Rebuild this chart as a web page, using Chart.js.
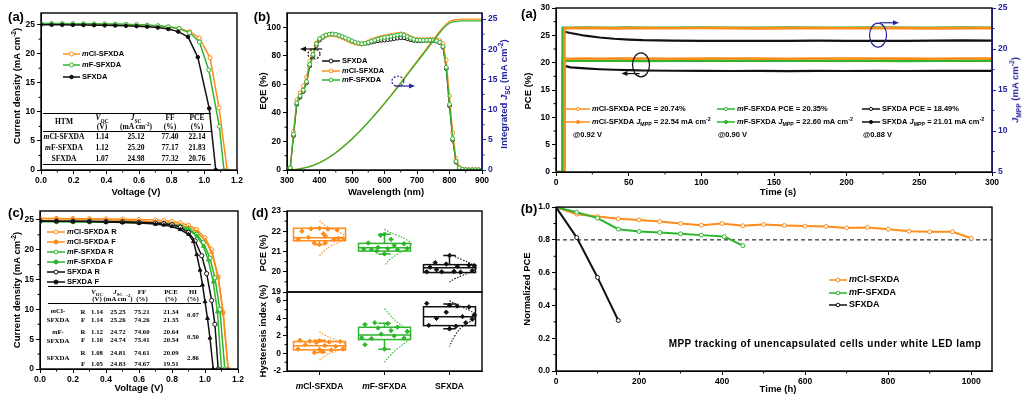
<!DOCTYPE html>
<html>
<head>
<meta charset="utf-8">
<script src="https://cdn.jsdelivr.net/npm/chart.js@4.4.0/dist/chart.umd.min.js"></script>
<style>
  html, body { margin: 0; padding: 0; background: #fff; }
  #fig { position: relative; width: 1024px; height: 396px; overflow: hidden;
         font-family: "Liberation Sans", Arial, sans-serif; font-weight: bold; color: #000; }
  #fig canvas { position: absolute; }
  .t { position: absolute; white-space: nowrap; line-height: 1; transform: translate(-50%, -50%); }
  .v { transform: translate(-50%, -50%) rotate(-90deg); }
  .lab { font-size: 13px; }
  .ax { font-size: 9.5px; }
  .note { font-size: 10px; letter-spacing: 0.45px; }
  .tb { font-family: "Liberation Serif", "Times New Roman", serif; font-size: 7.5px; }
  .tc { font-family: "Liberation Serif", "Times New Roman", serif; font-size: 6.8px; }
  .rule { position: absolute; height: 0; border-top: 1px solid #000; }
  sub, sup { font-size: 70%; line-height: 0; }
</style>
</head>
<body>
<div id="fig"></div>
<script>
// ---- colours
const ORANGE = '#ff8c1a', GREEN = '#2db52d', BLACK = '#111111', BLUE = '#23239b';
const names = ['<i>m</i>Cl-SFXDA', '<i>m</i>F-SFXDA', 'SFXDA'];

// ---- (a) J-V curves
const jvVoltMcl = [0,0.065,0.13,0.195,0.26,0.325,0.39,0.455,0.52,0.585,0.65,0.715,0.78,0.845,0.91,0.97,1.035,1.09,1.14];
const jvCurMcl  = [25.12,25.11,25.10,25.09,25.08,25.06,25.04,25.01,24.97,24.92,24.85,24.75,24.60,24.35,23.80,22.70,19.30,10.70,0];
const jvVoltMf  = [0,0.065,0.13,0.195,0.26,0.325,0.39,0.455,0.52,0.585,0.65,0.715,0.78,0.845,0.91,0.97,1.027,1.092,1.12];
const jvCurMf   = [25.20,25.19,25.18,25.17,25.16,25.14,25.12,25.09,25.05,25.00,24.92,24.82,24.65,24.35,23.60,22.00,17.20,7.50,0];
const jvVoltSf  = [0,0.065,0.13,0.195,0.26,0.325,0.39,0.455,0.52,0.585,0.65,0.715,0.78,0.84,0.90,0.96,1.03,1.07];
const jvCurSf   = [24.98,24.97,24.96,24.95,24.93,24.91,24.88,24.85,24.80,24.74,24.65,24.50,24.25,23.80,22.90,19.40,10.60,0];
const tblVoc = ['1.14', '1.12', '1.07'];
const tblJsc = ['25.12', '25.20', '24.98'];
const tblFF  = ['77.40', '77.17', '77.32'];
const tblPce = ['22.14', '21.83', '20.76'];

// ---- (b) EQE and integrated Jsc
const wl = [300,310,320,330,340,350,360,370,380,390,400,410,420,430,440,450,460,470,480,490,500,510,520,530,540,550,560,570,580,590,600,610,620,630,640,650,660,670,680,690,700,710,720,730,740,750,760,770,780,790,800,810,820,830,840,850,860,870,880,890,900];
const eqeMf  = [1.0,1.5,25,47,52,56,62,74,81,88.5,92,93.5,94.6,95.2,95.3,95.0,94.3,93.5,92.6,91.6,90.6,89.6,88.9,88.5,88.7,89.4,90.2,91.0,91.7,92.3,92.8,93.2,93.6,94.1,94.6,95.0,94.6,93.6,92.4,91.5,91.0,90.9,90.9,91.0,91.0,90.8,90.5,89.5,86.5,72,46,22,6,1.5,0.5,0.2,0.1,0.1,0.1,0.1,0.1];
const eqeMcl = [1.0,1.8,27,49,54,59,65,76,83,89,91.8,93.2,94.1,94.6,94.7,94.4,93.7,92.8,91.8,90.8,89.8,89.0,88.4,88.3,88.8,89.8,90.8,91.7,92.4,93.0,93.5,93.9,94.3,94.7,95.1,95.4,95.0,94.0,92.8,91.9,91.5,91.4,91.4,91.5,91.6,91.6,91.4,90.8,88.5,77,52,26,8,2,0.6,0.2,0.1,0.1,0.1,0.1,0.1];
const eqeSf  = [0.8,1.3,24,46,51,55,61,73,80,87,91,93,94.3,95.0,95.1,94.8,94.0,93.1,92.1,91.0,90.0,89.2,88.6,88.3,88.5,89.0,89.6,90.1,90.5,90.8,91.0,91.3,91.6,92.0,92.4,92.7,92.6,92.0,91.3,90.8,90.6,90.6,90.7,90.8,90.8,90.6,90.3,89.2,86.0,71,45,21,5.5,1.3,0.4,0.2,0.1,0.1,0.1,0.1,0.1];
const intMf  = [0,0.01,0.05,0.12,0.2,0.3,0.42,0.57,0.75,0.96,1.2,1.47,1.77,2.1,2.46,2.85,3.27,3.71,4.17,4.65,5.15,5.67,6.2,6.75,7.32,7.9,8.5,9.11,9.73,10.36,11.0,11.65,12.31,12.98,13.66,14.35,15.05,15.75,16.45,17.15,17.85,18.55,19.25,19.95,20.65,21.35,22.05,22.73,23.37,23.92,24.3,24.52,24.62,24.66,24.68,24.69,24.7,24.7,24.7,24.7,24.7];
const intMcl = [0,0.01,0.05,0.12,0.21,0.32,0.44,0.59,0.77,0.98,1.22,1.49,1.79,2.12,2.48,2.87,3.29,3.73,4.19,4.67,5.17,5.69,6.22,6.77,7.34,7.93,8.54,9.16,9.79,10.43,11.08,11.74,12.41,13.09,13.78,14.48,15.19,15.9,16.61,17.32,18.03,18.74,19.45,20.16,20.87,21.58,22.29,22.98,23.63,24.2,24.58,24.8,24.9,24.94,24.96,24.97,24.98,24.98,24.98,24.98,24.98];

// ---- (a, right) steady state PCE / J_MPP vs time
const stabTime = [6,10,20,30,40,50,60,80,100,120,140,160,180,200,220,240,260,280,300];
const startTime = [5.7, 4.6, 5.2];
const mclPce = [20.70,20.72,20.75,20.73,20.76,20.74,20.75,20.73,20.74,20.76,20.74,20.73,20.75,20.74,20.76,20.74,20.73,20.75,20.74];
const mfPce  = [20.33,20.36,20.35,20.34,20.36,20.35,20.33,20.36,20.35,20.34,20.36,20.35,20.34,20.36,20.35,20.33,20.35,20.36,20.35];
const sfPce  = [19.40,19.15,18.95,18.80,18.70,18.62,18.57,18.52,18.50,18.48,18.49,18.47,18.49,18.48,18.50,18.48,18.49,18.51,18.49];
const mclJ   = [22.50,22.53,22.55,22.54,22.52,22.55,22.54,22.53,22.56,22.54,22.52,22.55,22.54,22.53,22.55,22.54,22.52,22.55,22.54];
const mfJ    = [22.58,22.60,22.61,22.59,22.60,22.62,22.60,22.59,22.61,22.60,22.58,22.61,22.60,22.59,22.61,22.60,22.59,22.61,22.60];
const sfJ    = [22.10,21.95,21.62,21.40,21.25,21.15,21.08,21.03,21.00,20.98,21.00,20.99,21.01,20.98,21.00,20.99,21.01,21.06,21.03];
const stabPceLbl = ['20.74', '20.35', '18.49'];
const stabJLbl = ['22.54', '22.60', '21.01'];
const biasV = ['0.92', '0.90', '0.88'];

// ---- (c) forward / reverse J-V
const hvVoltOrR = [0,0.1,0.2,0.3,0.4,0.5,0.6,0.7,0.75,0.8,0.85,0.9,0.95,1.0,1.04,1.08,1.11,1.14];
const hvCurOrR  = [25.25,25.24,25.22,25.20,25.17,25.13,25.07,24.98,24.90,24.75,24.50,24.10,23.40,22.00,20.00,15.50,9.50,0];
const hvVoltOrF = [0,0.1,0.2,0.3,0.4,0.5,0.6,0.7,0.75,0.8,0.85,0.9,0.95,1.0,1.04,1.08,1.11,1.14];
const hvCurOrF  = [25.26,25.21,25.16,25.10,25.02,24.93,24.82,24.67,24.56,24.40,24.15,23.75,23.00,21.60,19.60,15.30,9.40,0];
const hvVoltGrR = [0,0.1,0.2,0.3,0.4,0.5,0.6,0.7,0.75,0.8,0.85,0.9,0.95,0.99,1.03,1.06,1.09,1.12];
const hvCurGrR  = [24.72,24.71,24.69,24.67,24.64,24.60,24.53,24.43,24.35,24.20,23.95,23.50,22.60,21.20,18.60,15.30,10.00,0];
const hvVoltGrF = [0,0.1,0.2,0.3,0.4,0.5,0.6,0.7,0.75,0.8,0.85,0.9,0.95,0.99,1.02,1.05,1.075,1.10];
const hvCurGrF  = [24.74,24.73,24.71,24.69,24.66,24.62,24.55,24.45,24.36,24.20,23.90,23.40,22.30,20.60,18.30,14.60,9.60,0];
const hvVoltBkR = [0,0.1,0.2,0.3,0.4,0.5,0.6,0.7,0.75,0.8,0.85,0.9,0.94,0.98,1.01,1.04,1.06,1.08];
const hvCurBkR  = [24.81,24.80,24.78,24.76,24.73,24.69,24.62,24.50,24.40,24.20,23.80,22.90,21.50,19.00,16.00,11.50,7.50,0];
const hvVoltBkF = [0,0.1,0.2,0.3,0.4,0.5,0.6,0.7,0.75,0.8,0.85,0.9,0.93,0.95,0.97,0.985,1.0,1.015,1.03,1.05];
const hvCurBkF  = [24.83,24.80,24.76,24.72,24.66,24.58,24.47,24.30,24.15,23.90,23.40,22.60,21.40,19.20,16.60,14.10,11.30,8.50,5.20,0];
const hvVoc = ['1.14','1.14','1.12','1.10','1.08','1.05'];
const hvJsc = ['25.25','25.26','24.72','24.74','24.81','24.83'];
const hvFF  = ['75.21','74.26','74.60','75.41','74.61','74.67'];
const hvPce = ['21.34','21.35','20.64','20.54','20.09','19.51'];
const hvHI  = ['0.07','0.50','2.86'];

// ---- (d) statistics (box: q1, median, q3, whiskers)
const pceQ1 = [21.53, 21.02, 19.96], pceMed = [21.68, 21.19, 20.20], pceQ3 = [22.15, 21.40, 20.35];
const pceLo = [21.34, 20.88, 19.96], pceHi = [22.15, 21.85, 20.80];
const hiQ1 = [0.41, 1.58, 3.17], hiMed = [0.88, 2.11, 4.19], hiQ3 = [1.35, 2.98, 5.32];
const hiLo = [0.10, 0.47, 2.80], hiHi = [1.50, 3.45, 5.63];
const pceMcl = [22.0,22.12,22.15,22.1,22.07,21.6,21.7,21.76,21.65,21.42,21.34,21.42,21.6,21.63,21.88];
const pceMclOff = [-0.27,-0.13,0.0,0.13,0.27,-0.33,-0.17,0.09,0.29,-0.08,0.0,0.09,0.22,0.37,0.06];
const pceMf = [21.85,21.8,21.6,21.42,21.3,21.38,21.2,21.12,21.1,21.14,21.08,21.15,20.88,21.02];
const pceMfOff = [0.0,-0.06,0.1,-0.25,0.15,0.3,-0.1,-0.32,-0.2,0.05,0.2,0.35,0.0,-0.12];
const pceSf = [20.8,20.45,20.38,20.32,20.27,20.22,20.05,20.0,20.02,19.98,20.1,20.3,20.0];
const pceSfOff = [0.0,-0.22,-0.05,0.3,0.12,-0.3,0.35,-0.12,0.07,0.17,-0.2,0.38,-0.35];
const hiMcl = [1.5,1.4,1.45,1.3,1.35,1.0,0.9,0.8,0.5,0.45,0.4,0.2,0.1,0.5,1.25];
const hiMclOff = [-0.3,-0.15,0.0,0.15,0.32,-0.22,0.08,0.25,-0.33,0.0,0.18,0.05,-0.08,0.36,-0.05];
const hiMf = [3.5,3.4,3.3,3.0,2.5,2.2,2.0,1.8,1.7,1.75,1.0,0.5,2.6,2.9];
const hiMfOff = [-0.15,0.05,-0.3,0.2,0.35,-0.05,0.15,-0.35,-0.2,0.3,-0.3,0.0,0.1,-0.1];
const hiSf = [5.7,5.5,5.4,5.3,4.7,4.2,4.0,3.9,3.5,3.2,2.8,3.1,4.4];
const hiSfOff = [-0.35,0.0,0.12,0.3,-0.05,0.2,-0.2,0.35,0.25,-0.32,0.0,0.1,0.38];
// distribution curves: value, sideways offset
const curveOff = [0.0,0.08,0.19,0.33,0.41,0.33,0.19,0.08,0.0];
const pceCurveMcl = [22.5,22.3,22.1,21.9,21.7,21.5,21.3,21.05,20.8];
const pceCurveMf  = [22.1,21.95,21.8,21.6,21.35,21.1,20.85,20.6,20.3];
const pceCurveSf  = [20.9,20.75,20.6,20.4,20.2,20.0,19.8,19.65,19.5];
const hiCurveMcl  = [2.5,2.1,1.7,1.3,0.9,0.5,0.1,-0.3,-0.75];
const hiCurveMf   = [5.1,4.4,3.6,2.8,2.05,1.3,0.5,-0.3,-1.0];
const hiCurveSf   = [6.0,5.7,5.3,4.8,4.3,3.7,3.0,2.0,0.8];

// ---- (b, right) long-term MPP tracking
const mclTime = [0,50,100,150,200,250,300,350,400,450,500,550,600,650,700,750,800,850,900,955,1000];
const mclNorm = [1.0,0.957,0.943,0.929,0.922,0.912,0.9,0.89,0.9,0.886,0.894,0.888,0.884,0.882,0.873,0.876,0.865,0.853,0.849,0.849,0.81];
const mfTime = [0,50,100,150,200,250,300,350,405,450];
const mfNorm = [1.0,0.969,0.933,0.865,0.851,0.845,0.837,0.829,0.82,0.765];
const sfTime = [0,50,100,150];
const sfNorm = [1.0,0.814,0.571,0.308];
const t80 = 0.8;

// ---------------------------------------------------------------
Chart.defaults.font.family = '"Liberation Sans", Arial, sans-serif';
Chart.defaults.font.size = 8.5;
Chart.defaults.font.weight = 'bold';
Chart.defaults.color = '#000';
Chart.defaults.animation = false;
Chart.defaults.events = [];
Chart.defaults.plugins.legend.display = false;
Chart.defaults.plugins.tooltip.enabled = false;

const fig = document.getElementById('fig');
const xy = (xs, ys) => xs.map((x, i) => ({ x: x, y: ys[i] }));

function put(html, x, y, cls, color) {
  const d = document.createElement('div');
  d.className = 't ' + (cls || '');
  d.innerHTML = html;
  d.style.left = x + 'px';
  d.style.top = y + 'px';
  if (color) d.style.color = color;
  fig.appendChild(d);
}
function rule(x0, x1, y) {
  const d = document.createElement('div');
  d.className = 'rule';
  d.style.left = x0 + 'px'; d.style.top = y + 'px'; d.style.width = (x1 - x0) + 'px';
  fig.appendChild(d);
}

// small rich text for canvas: <i>, <sub>, <sup>
function drawRich(ctx, html, x, y, size, color, align) {
  const parts = [];
  html.replace(/<(i|sub|sup)>(.*?)<\/\1>|([^<]+)/g, (m, tag, inner, plain) => {
    parts.push(plain !== undefined ? { t: plain } : { t: inner, k: tag });
  });
  const fontOf = p => (p.k === 'i' ? 'italic ' : '') + 'bold ' +
    (p.k === 'sub' || p.k === 'sup' ? size * 0.7 : size) + 'px "Liberation Sans", Arial';
  let w = 0;
  parts.forEach(p => { ctx.font = fontOf(p); p.w = ctx.measureText(p.t).width; w += p.w; });
  let cx = align === 'center' ? x - w / 2 : x;
  ctx.fillStyle = color || '#000';
  ctx.textBaseline = 'middle';
  ctx.textAlign = 'left';
  parts.forEach(p => {
    ctx.font = fontOf(p);
    const dy = p.k === 'sub' ? size * 0.3 : p.k === 'sup' ? -size * 0.35 : 0;
    ctx.fillText(p.t, cx, y + dy);
    cx += p.w;
  });
}

function axis(pos, min, max, ticks, dec, color) {
  color = color || '#000';
  return {
    type: 'linear', position: pos, min: min, max: max,
    afterBuildTicks: s => { s.ticks = ticks.map(v => ({ value: v })); },
    grid: { drawOnChartArea: false, drawTicks: true, tickLength: 4, color: color },
    border: { display: true, color: color, width: 1 },
    ticks: { color: color, padding: 2, autoSkip: false, maxRotation: 0, minRotation: 0,
             callback: v => v.toFixed(dec) }
  };
}

function line(data, color, o) {
  return Object.assign({ data: data, borderColor: color, backgroundColor: color,
    pointBorderColor: color, pointBackgroundColor: '#fff', showLine: true,
    borderWidth: 1.5, pointRadius: 0, pointBorderWidth: 1, tension: 0 }, o || {});
}

// frame + minor ticks
function decor(minor, rightColor) {
  return { id: 'decor', afterDraw(chart) {
    const ctx = chart.ctx, a = chart.chartArea;
    ctx.save();
    minor.forEach(id => {
      const s = chart.scales[id], t = s.ticks;
      ctx.strokeStyle = s.options.border.color;
      ctx.lineWidth = 1;
      ctx.beginPath();
      for (let i = 0; i < t.length - 1; i++) {
        const p = s.getPixelForValue((t[i].value + t[i + 1].value) / 2);
        if (s.position === 'bottom') { ctx.moveTo(p, a.bottom); ctx.lineTo(p, a.bottom + 2.5); }
        else if (s.position === 'left') { ctx.moveTo(a.left - 2.5, p); ctx.lineTo(a.left, p); }
        else { ctx.moveTo(a.right, p); ctx.lineTo(a.right + 2.5, p); }
      }
      ctx.stroke();
    });
    ctx.strokeStyle = '#000';
    ctx.lineWidth = 1.4;
    ctx.strokeRect(a.left, a.top, a.right - a.left, a.bottom - a.top);
    if (rightColor) {
      ctx.strokeStyle = rightColor;
      ctx.beginPath(); ctx.moveTo(a.right, a.top); ctx.lineTo(a.right, a.bottom); ctx.stroke();
    }
    ctx.restore();
  }};
}

// legend entries, placed in figure pixels
function legend(items, size) {
  return { id: 'lg', afterDraw(chart) {
    const ctx = chart.ctx, ox = chart.canvas.offsetLeft, oy = chart.canvas.offsetTop;
    items.forEach(it => {
      const x0 = it.x0 - ox, x1 = it.x1 - ox, y = it.y - oy;
      ctx.save();
      ctx.strokeStyle = it.color || '#000';
      if (x1 > x0) {
        ctx.lineWidth = 1.5;
        ctx.beginPath(); ctx.moveTo(x0, y); ctx.lineTo(x1, y); ctx.stroke();
      }
      if (it.r) {
        ctx.beginPath(); ctx.arc((x0 + x1) / 2, y, it.r, 0, Math.PI * 2);
        ctx.fillStyle = it.fill; ctx.fill(); ctx.lineWidth = 1; ctx.stroke();
      }
      drawRich(ctx, it.text, x1 + 2, y, size, '#000');
      ctx.restore();
    });
  }};
}

// circles and arrows in data coordinates
function notes(list) {
  return { id: 'notes', afterDatasetsDraw(chart) {
    const ctx = chart.ctx, xs = chart.scales.x;
    list.forEach(n => {
      const ys = chart.scales[n.axis];
      ctx.save();
      ctx.strokeStyle = n.color; ctx.fillStyle = n.color; ctx.lineWidth = 1.2;
      if (n.dash) ctx.setLineDash(n.dash);
      if (n.type === 'ellipse') {
        ctx.beginPath();
        ctx.ellipse(xs.getPixelForValue(n.x), ys.getPixelForValue(n.y), n.rx, n.ry, 0, 0, Math.PI * 2);
        ctx.stroke();
      } else {
        const a = xs.getPixelForValue(n.x0), b = xs.getPixelForValue(n.x1), y = ys.getPixelForValue(n.y);
        const d = Math.sign(b - a);
        ctx.beginPath(); ctx.moveTo(a, y); ctx.lineTo(b - d * 4, y); ctx.stroke();
        ctx.beginPath(); ctx.moveTo(b, y); ctx.lineTo(b - d * 6, y - 2.5); ctx.lineTo(b - d * 6, y + 2.5);
        ctx.closePath(); ctx.fill();
      }
      ctx.restore();
    });
  }};
}

// box + whiskers per category (category i sits at x = i + 1)
function boxes(q1, med, q3, lo, hi, colors, halfW) {
  return { id: 'boxes', beforeDatasetsDraw(chart) {
    const ctx = chart.ctx, x = chart.scales.x, y = chart.scales.y;
    q1.forEach((_, i) => {
      const l = x.getPixelForValue(i + 1 - halfW), r = x.getPixelForValue(i + 1 + halfW);
      const m = x.getPixelForValue(i + 1), cap = (r - l) * 0.12;
      const yq1 = y.getPixelForValue(q1[i]), yq3 = y.getPixelForValue(q3[i]);
      const ymd = y.getPixelForValue(med[i]), ylo = y.getPixelForValue(lo[i]), yhi = y.getPixelForValue(hi[i]);
      ctx.save();
      ctx.strokeStyle = colors[i]; ctx.lineWidth = 1.5;
      ctx.strokeRect(l, yq3, r - l, yq1 - yq3);
      ctx.beginPath();
      ctx.moveTo(l, ymd); ctx.lineTo(r, ymd);
      ctx.moveTo(m, yq3); ctx.lineTo(m, yhi); ctx.moveTo(m - cap, yhi); ctx.lineTo(m + cap, yhi);
      ctx.moveTo(m, yq1); ctx.lineTo(m, ylo); ctx.moveTo(m - cap, ylo); ctx.lineTo(m + cap, ylo);
      ctx.stroke();
      ctx.restore();
    });
  }};
}

function catLabels(labels) {
  return { id: 'cats', afterDraw(chart) {
    const x = chart.scales.x, a = chart.chartArea;
    labels.forEach((l, i) => drawRich(chart.ctx, l, x.getPixelForValue(i + 1), a.bottom + 16, 8.5, '#000', 'center'));
  }};
}

// canvas at box [x, y, w, h]; plot area at [x0, y0, x1, y1] in figure pixels
function panel(box, plot, scales, datasets, plugins) {
  const cv = document.createElement('canvas');
  cv.width = box[2]; cv.height = box[3];
  cv.style.left = box[0] + 'px'; cv.style.top = box[1] + 'px';
  cv.style.width = box[2] + 'px'; cv.style.height = box[3] + 'px';
  fig.appendChild(cv);
  const pad = { left: plot[0] - box[0], top: plot[1] - box[1],
                right: box[0] + box[2] - plot[2], bottom: box[1] + box[3] - plot[3] };
  Object.values(scales).forEach(s => {
    if (s.display === false) return;
    const side = s.position, size = pad[side];
    s.afterFit = sc => { if (side === 'bottom') sc.height = size; else sc.width = size; };
    pad[side] = 0;
  });
  return new Chart(cv, {
    type: 'scatter',
    data: { datasets: datasets },
    options: { responsive: false, maintainAspectRatio: false, layout: { padding: pad }, scales: scales },
    plugins: plugins
  });
}

const vTicks = [0, 0.2, 0.4, 0.6, 0.8, 1.0, 1.2];
const jTicks = [0, 5, 10, 15, 20, 25];

// ================= (a) J-V
panel([0, 0, 250, 200], [41, 13, 237, 170],
  { x: axis('bottom', 0, 1.2, vTicks, 1), y: axis('left', 0, 27, jTicks, 0) },
  [
    line(xy(jvVoltSf, jvCurSf), BLACK, { pointRadius: 1.8, pointBackgroundColor: BLACK }),
    line(xy(jvVoltMf, jvCurMf), GREEN, { pointRadius: 2 }),
    line(xy(jvVoltMcl, jvCurMcl), ORANGE, { pointRadius: 2 })
  ],
  [decor(['x', 'y']), legend([
    { x0: 63, x1: 80, y: 54, color: ORANGE, r: 2, fill: '#fff', text: names[0] },
    { x0: 63, x1: 80, y: 65, color: GREEN, r: 2, fill: '#fff', text: names[1] },
    { x0: 63, x1: 80, y: 77, color: BLACK, r: 1.8, fill: BLACK, text: names[2] }
  ], 7.5)]);

// ================= (b) EQE
panel([245, 0, 270, 200], [287, 13, 482, 170],
  { x: axis('bottom', 300, 900, [300,400,500,600,700,800,900], 0),
    y: axis('left', 0, 110, [0,20,40,60,80,100], 0),
    y2: Object.assign(axis('right', 0, 26, jTicks, 0, BLUE), { axis: 'y' }) },
  [
    line(xy(wl, intMf), GREEN, { yAxisID: 'y2', borderWidth: 1.3 }),
    line(xy(wl, eqeMf), GREEN, { pointRadius: 1.9, borderWidth: 1.2 }),
    line(xy(wl, eqeMcl), ORANGE, { pointRadius: 1.9, borderWidth: 1.2 }),
    line(xy(wl, eqeSf), BLACK, { pointRadius: 1.9, borderWidth: 1.2 }),
    line(xy(wl, intMcl), ORANGE, { yAxisID: 'y2', borderWidth: 1.3 })
  ],
  [decor(['x', 'y', 'y2'], BLUE),
   notes([
     { type: 'ellipse', x: 383, y: 81.3, rx: 6, ry: 5, axis: 'y', color: BLACK, dash: [2, 1.5] },
     { type: 'arrow', x0: 408, x1: 340, y: 84.8, axis: 'y', color: BLACK },
     { type: 'ellipse', x: 641, y: 14.7, rx: 6, ry: 5, axis: 'y2', color: BLUE, dash: [2, 1.5] },
     { type: 'arrow', x0: 632, x1: 694, y: 13.9, axis: 'y2', color: BLUE }
   ]),
   legend([
     { x0: 322, x1: 340, y: 61, color: BLACK, r: 1.9, fill: '#fff', text: names[2] },
     { x0: 322, x1: 340, y: 71, color: ORANGE, r: 1.9, fill: '#fff', text: names[0] },
     { x0: 322, x1: 340, y: 80, color: GREEN, r: 1.9, fill: '#fff', text: names[1] }
   ], 7.5)]);

// ================= (a, right) steady state
function stab(st, vals) {
  return [{ x: 0, y: 0 }, { x: st, y: 0 }, { x: st, y: vals[0] }].concat(xy(stabTime, vals));
}
const stabColors = [ORANGE, GREEN, BLACK];
const lgX0 = [566, 717, 862], lgX1 = [590, 735, 880], atX = [573, 718, 863];
const stabLegend = [];
[0, 1, 2].forEach(i => {
  stabLegend.push({ x0: lgX0[i], x1: lgX1[i], y: 109, color: stabColors[i], r: 1.6, fill: '#fff',
    text: names[i] + ' PCE = ' + stabPceLbl[i] + '%' });
  stabLegend.push({ x0: lgX0[i], x1: lgX1[i], y: 122, color: stabColors[i], r: 1.6, fill: stabColors[i],
    text: names[i] + ' <i>J</i><sub>MPP</sub> = ' + stabJLbl[i] + ' mA cm<sup>-2</sup>' });
  stabLegend.push({ x0: atX[i] - 2, x1: atX[i] - 2, y: 135, text: '@' + biasV[i] + ' V' });
});
panel([515, 0, 509, 200], [556, 8, 992, 172],
  { x: axis('bottom', 0, 300, [0,50,100,150,200,250,300], 0),
    y: axis('left', 0, 30, [0,5,10,15,20,25,30], 0),
    y2: Object.assign(axis('right', 5, 25, [5,10,15,20,25], 0, BLUE), { axis: 'y' }) },
  [
    line(stab(startTime[0], mclJ), ORANGE, { yAxisID: 'y2', borderWidth: 2.6, clip: 0 }),
    line(stab(startTime[1], mfJ), GREEN, { yAxisID: 'y2', borderWidth: 2.6, clip: 0 }),
    line(stab(startTime[2], sfJ), BLACK, { yAxisID: 'y2', borderWidth: 2.2, clip: 0 }),
    line(stab(startTime[0], mclPce), ORANGE, { borderWidth: 2.6, clip: 0 }),
    line(stab(startTime[1], mfPce), GREEN, { borderWidth: 2.6, clip: 0 }),
    line(stab(startTime[2], sfPce), BLACK, { borderWidth: 2.2, clip: 0 })
  ],
  [decor(['x', 'y', 'y2'], BLUE),
   notes([
     { type: 'ellipse', x: 58.5, y: 19.6, rx: 8.5, ry: 12, axis: 'y', color: BLACK },
     { type: 'arrow', x0: 57.5, x1: 45, y: 18.0, axis: 'y', color: BLACK },
     { type: 'ellipse', x: 221.6, y: 21.7, rx: 8.5, ry: 12, axis: 'y2', color: BLUE },
     { type: 'arrow', x0: 223, x1: 236, y: 23.2, axis: 'y2', color: BLUE }
   ]),
   legend(stabLegend, 7.5)]);

// ================= (c) hysteresis J-V
const open = { pointRadius: 2.1 };
const filled = c => ({ pointRadius: 2.2, pointStyle: 'triangle', pointBackgroundColor: c });
panel([0, 200, 250, 196], [40, 211, 238, 369],
  { x: axis('bottom', 0, 1.2, vTicks, 1), y: axis('left', 0, 26.5, jTicks, 0) },
  [
    line(xy(hvVoltBkF, hvCurBkF), BLACK, filled(BLACK)),
    line(xy(hvVoltBkR, hvCurBkR), BLACK, open),
    line(xy(hvVoltGrF, hvCurGrF), GREEN, filled(GREEN)),
    line(xy(hvVoltGrR, hvCurGrR), GREEN, open),
    line(xy(hvVoltOrF, hvCurOrF), ORANGE, filled(ORANGE)),
    line(xy(hvVoltOrR, hvCurOrR), ORANGE, open)
  ],
  [decor(['x', 'y']), legend([
    { x0: 47, x1: 65, y: 232, color: ORANGE, r: 2, fill: '#fff', text: names[0] + ' R' },
    { x0: 47, x1: 65, y: 242, color: ORANGE, r: 2, fill: ORANGE, text: names[0] + ' F' },
    { x0: 47, x1: 65, y: 252, color: GREEN, r: 2, fill: '#fff', text: names[1] + ' R' },
    { x0: 47, x1: 65, y: 262, color: GREEN, r: 2, fill: GREEN, text: names[1] + ' F' },
    { x0: 47, x1: 65, y: 272, color: BLACK, r: 2, fill: '#fff', text: names[2] + ' R' },
    { x0: 47, x1: 65, y: 282, color: BLACK, r: 2, fill: BLACK, text: names[2] + ' F' }
  ], 7.5)]);

// ================= (d) statistics
const grpColors = [ORANGE, GREEN, BLACK];
const jit = (c, vals, offs) => vals.map((v, i) => ({ x: c + offs[i], y: v }));
const pts = (data, c) => ({ data: data, pointStyle: 'rectRot', pointRadius: 2.2,
  pointBackgroundColor: c, pointBorderColor: c, showLine: false });
const dist = (c, vals, col) => line(vals.map((v, i) => ({ x: c + curveOff[i], y: v })), col,
  { borderWidth: 1.1, borderDash: [1.5, 1.5], tension: 0.4 });
const catX = () => axis('bottom', 0.5, 3.5, [1, 2, 3], 0);

const dTopX = catX(); dTopX.display = false;
panel([245, 200, 270, 100], [287, 211, 482, 292],
  { x: dTopX, y: axis('left', 19, 23, [19,20,21,22,23], 0) },
  [
    pts(jit(1, pceMcl, pceMclOff), ORANGE), pts(jit(2, pceMf, pceMfOff), GREEN), pts(jit(3, pceSf, pceSfOff), BLACK),
    dist(1, pceCurveMcl, ORANGE), dist(2, pceCurveMf, GREEN), dist(3, pceCurveSf, BLACK)
  ],
  [boxes(pceQ1, pceMed, pceQ3, pceLo, pceHi, grpColors, 0.4), decor(['y'])]);

const dBotX = catX(); dBotX.ticks.display = false;
panel([245, 284, 270, 112], [287, 292, 482, 371],
  { x: dBotX, y: axis('left', -2, 7, [-2,0,2,4,6], 0) },
  [
    pts(jit(1, hiMcl, hiMclOff), ORANGE), pts(jit(2, hiMf, hiMfOff), GREEN), pts(jit(3, hiSf, hiSfOff), BLACK),
    dist(1, hiCurveMcl, ORANGE), dist(2, hiCurveMf, GREEN), dist(3, hiCurveSf, BLACK)
  ],
  [boxes(hiQ1, hiMed, hiQ3, hiLo, hiHi, grpColors, 0.4), decor(['y']), catLabels(names)]);

// ================= (b, right) long-term stability
const mk = { pointRadius: 2, borderWidth: 2 };
panel([515, 200, 509, 196], [556, 207, 992, 371],
  { x: axis('bottom', 0, 1050, [0,200,400,600,800,1000], 0),
    y: axis('left', 0, 1.0, [0,0.2,0.4,0.6,0.8,1.0], 1) },
  [
    line(xy(sfTime, sfNorm), BLACK, mk),
    line(xy(mfTime, mfNorm), GREEN, mk),
    line(xy(mclTime, mclNorm), ORANGE, mk),
    line([{ x: 0, y: t80 }, { x: 1050, y: t80 }], '#000', { borderWidth: 1, borderDash: [4, 3] })
  ],
  [decor(['x', 'y']), legend([
    { x0: 829, x1: 847, y: 280, color: ORANGE, r: 1.8, fill: '#fff', text: names[0] },
    { x0: 829, x1: 847, y: 293, color: GREEN, r: 1.8, fill: '#fff', text: names[1] },
    { x0: 829, x1: 847, y: 305, color: BLACK, r: 1.8, fill: '#fff', text: names[2] }
  ], 9)]);

// ================= text: panel labels, axis titles, tables
put('(a)', 16, 16, 'lab'); put('(b)', 262, 16, 'lab'); put('(a)', 529, 13, 'lab');
put('(c)', 16, 212, 'lab'); put('(d)', 260, 212, 'lab'); put('(b)', 529, 208, 'lab');

put('Current density (mA cm<sup>-2</sup>)', 17, 86, 'ax v');
put('Voltage (V)', 136, 192, 'ax');
put('EQE (%)', 263, 91, 'ax v');
put('Wavelength (nm)', 386, 192, 'ax');
put('Integrated <i>J</i><sub>SC</sub> (mA cm<sup>-2</sup>)', 504, 94, 'ax v', BLUE);
put('PCE (%)', 528, 91, 'ax v');
put('Time (s)', 778, 192, 'ax');
put('<i>J</i><sub>MPP</sub> (mA cm<sup>-2</sup>)', 1015, 90, 'ax v', BLUE);
put('Current density (mA cm<sup>-2</sup>)', 17, 290, 'ax v');
put('Voltage (V)', 139, 388, 'ax');
put('PCE (%)', 263, 253, 'ax v');
put('Hysteresis index (%)', 263, 331, 'ax v');
put('Normalized PCE', 527, 289, 'ax v');
put('Time (h)', 778, 389, 'ax');
put('MPP tracking of unencapsulated cells under white LED lamp', 825, 344, 'note');

// table in (a)
rule(43, 211, 113); rule(43, 211, 131); rule(43, 211, 164);
const colA = [102, 136, 170, 197];
put('HTM', 64, 122, 'tb');
put('<i>V</i><sub>OC</sub>', colA[0], 118, 'tb'); put('(V)', colA[0], 127, 'tb');
put('<i>J</i><sub>SC</sub>', colA[1], 118, 'tb'); put('(mA cm<sup>-2</sup>)', colA[1], 127, 'tb');
put('FF', colA[2], 118, 'tb'); put('(%)', colA[2], 127, 'tb');
put('PCE', colA[3], 118, 'tb'); put('(%)', colA[3], 127, 'tb');
[137, 148, 159].forEach((y, i) => {
  put(names[i], 64, y, 'tb');
  put(tblVoc[i], colA[0], y, 'tb'); put(tblJsc[i], colA[1], y, 'tb');
  put(tblFF[i], colA[2], y, 'tb'); put(tblPce[i], colA[3], y, 'tb');
});

// table in (c)
rule(48, 201, 286); rule(48, 201, 303);
const colC = [97, 118, 142, 171, 193];
put('<i>V</i><sub>OC</sub>', colC[0], 292, 'tc'); put('(V)', colC[0], 299, 'tc');
put('<i>J</i><sub>SC</sub>', colC[1], 292, 'tc'); put('(mA cm<sup>-2</sup>)', colC[1], 299, 'tc');
put('FF', colC[2], 292, 'tc'); put('(%)', colC[2], 299, 'tc');
put('PCE', colC[3], 292, 'tc'); put('(%)', colC[3], 299, 'tc');
put('HI', colC[4], 292, 'tc'); put('(%)', colC[4], 299, 'tc');
const rowC = [312, 320, 332, 340, 353, 364];
rowC.forEach((y, i) => {
  put(i % 2 ? 'F' : 'R', 83, y, 'tc');
  put(hvVoc[i], colC[0], y, 'tc'); put(hvJsc[i], colC[1], y, 'tc');
  put(hvFF[i], colC[2], y, 'tc'); put(hvPce[i], colC[3], y, 'tc');
});
put('<i>m</i>Cl-', 58, 311, 'tc'); put('SFXDA', 58, 320, 'tc');
put('<i>m</i>F-', 58, 332, 'tc'); put('SFXDA', 58, 341, 'tc');
put('SFXDA', 58, 358, 'tc');
[315, 337, 358].forEach((y, i) => put(hvHI[i], colC[4], y, 'tc'));
</script>
</body>
</html>
